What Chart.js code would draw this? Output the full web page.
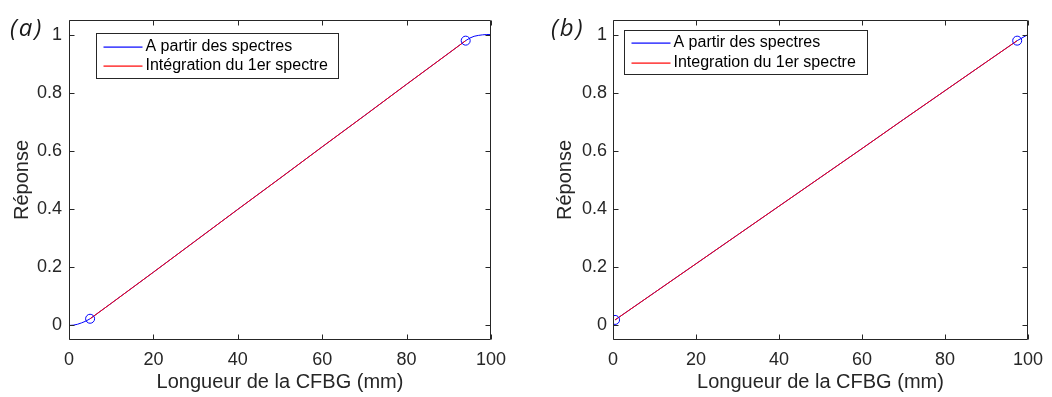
<!DOCTYPE html>
<html>
<head>
<meta charset="utf-8">
<script src="https://cdn.jsdelivr.net/npm/chart.js@4.4.0/dist/chart.umd.min.js"></script>
<style>
  body { margin: 0; background: #fff; width: 1052px; height: 397px; position: relative; overflow: hidden; }
  canvas { position: absolute; top: 0; }
  .tag { position: absolute; font: italic 24px 'Open Sans', sans-serif; letter-spacing: 2px; color: #1a1a1a; }
</style>
</head>
<body>
<canvas id="chartA" width="526" height="397" style="left:0"></canvas>
<canvas id="chartB" width="526" height="397" style="left:526px"></canvas>
<div class="tag" style="left:10px;top:10px">(a)</div>
<div class="tag" style="left:551px;top:10px">(b)</div>
<script>
// axes
const xTicks = [0, 20, 40, 60, 80, 100]
const yTicks = [0, 0.2, 0.4, 0.6, 0.8, 1]
const xTitle = 'Longueur de la CFBG (mm)'
const yTitle = 'Réponse'

// (a)
const specAX = [0, 1, 2, 3, 4, 5, 10, 20, 30, 40, 50, 60, 70, 80, 90, 94, 95, 96, 97, 98, 99, 100]
const specAY = [0, 0.001, 0.004, 0.009, 0.015, 0.023, 0.076, 0.183, 0.291, 0.399, 0.506, 0.614, 0.721, 0.829, 0.936, 0.979, 0.988, 0.994, 0.997, 0.999, 1.0, 1.0]
const integAX = [5, 10, 20, 30, 40, 50, 60, 70, 80, 90, 94]
const integAY = [0.023, 0.076, 0.183, 0.291, 0.399, 0.506, 0.614, 0.721, 0.829, 0.936, 0.979]
const markAX = [5, 94]
const markAY = [0.023, 0.979]
const labelsA = ['A partir des spectres', 'Intégration du 1er spectre']

// (b)
const specBX = [0.5, 10, 20, 30, 40, 50, 60, 70, 80, 90, 97.4, 100]
const specBY = [0.019, 0.113, 0.212, 0.311, 0.410, 0.509, 0.608, 0.708, 0.807, 0.906, 0.979, 1.0]
const integBX = [0.5, 10, 20, 30, 40, 50, 60, 70, 80, 90, 97.4]
const integBY = [0.019, 0.113, 0.212, 0.311, 0.410, 0.509, 0.608, 0.708, 0.807, 0.906, 0.979]
const markBX = [0.5, 97.4]
const markBY = [0.019, 0.979]
const labelsB = ['A partir des spectres', 'Integration du 1er spectre']

const BLUE = '#0000ff'
const RED = '#ff0000'
const FONT = "'Liberation Sans', Arial, sans-serif"
const INK = '#262626'

function pts(xs, ys) {
  return xs.map((x, i) => ({x: x, y: ys[i]}))
}

// matlab-like box with inward ticks on all four sides
const boxPlugin = {
  id: 'matlabBox',
  afterDatasetsDraw(chart) {
    const {ctx, chartArea: a, scales} = chart
    const L = Math.round(a.left) + 0.5, R = Math.round(a.right) - 0.5
    const T = Math.round(a.top) + 0.5, B = Math.round(a.bottom) - 0.5
    ctx.save()
    ctx.strokeStyle = INK
    ctx.lineWidth = 1
    ctx.beginPath()
    ctx.rect(L, T, R - L, B - T)
    xTicks.forEach(v => {
      const px = Math.round(scales.x.getPixelForValue(v)) + 0.5
      ctx.moveTo(px, B); ctx.lineTo(px, B - 5)
      ctx.moveTo(px, T); ctx.lineTo(px, T + 5)
    })
    yTicks.forEach(v => {
      const py = Math.round(scales.y.getPixelForValue(v)) + 0.5
      ctx.moveTo(L, py); ctx.lineTo(L + 5, py)
      ctx.moveTo(R, py); ctx.lineTo(R - 5, py)
    })
    ctx.stroke()
    ctx.restore()
  }
}

const legendPlugin = {
  id: 'boxLegend',
  afterDraw(chart, args, opts) {
    const {ctx, chartArea} = chart
    const x0 = Math.round(chartArea.left + opts.dx) + 0.5
    const y0 = Math.round(chartArea.top + opts.dy) + 0.5
    ctx.save()
    ctx.fillStyle = '#fff'
    ctx.fillRect(x0, y0, opts.w, opts.h)
    ctx.strokeStyle = INK
    ctx.lineWidth = 1
    ctx.strokeRect(x0, y0, opts.w, opts.h)
    ctx.font = '16px ' + FONT
    ctx.textBaseline = 'middle'
    chart.data.datasets.filter(d => d.label).forEach((d, i) => {
      const yy = Math.round(y0 + opts.row0 + i * opts.rowGap)
      ctx.fillStyle = i === 0 ? BLUE : RED
      ctx.fillRect(x0 + 7, yy - 0.5, 39, 1.2)
      ctx.fillStyle = '#000'
      ctx.fillText(d.label, x0 + 49, yy)
    })
    ctx.restore()
  }
}

function makeChart(id, spec, integ, mark, labels, lay) {
  const ctx = document.getElementById(id).getContext('2d')
  return new Chart(ctx, {
    type: 'line',
    data: {
      datasets: [
        {label: labels[0], data: spec, borderColor: BLUE, borderWidth: 1, pointRadius: 0, order: 3},
        {label: labels[1], data: integ, borderColor: RED, borderWidth: 1, pointRadius: 0, order: 2},
        {label: '', data: mark, showLine: false, pointRadius: 4.5, pointBorderWidth: 1,
         pointBorderColor: BLUE, pointBackgroundColor: 'rgba(0,0,0,0)', borderColor: BLUE, order: 1}
      ]
    },
    options: {
      responsive: false,
      animation: false,
      events: [],
      layout: {padding: {left: 0, right: lay.padRight, top: 20, bottom: 0}},
      elements: {line: {tension: 0}},
      plugins: {
        legend: {display: false},
        tooltip: {enabled: false},
        boxLegend: lay.legend
      },
      scales: {
        x: {
          type: 'linear', min: 0, max: 100,
          grid: {display: false, drawTicks: false},
          border: {display: false},
          afterBuildTicks: s => { s.ticks = xTicks.map(v => ({value: v})) },
          afterFit: s => { s.height = 57 },
          ticks: {autoSkip: false, maxRotation: 0, padding: 9, color: INK, font: {family: FONT, size: 18},
                  callback: v => String(v)},
          title: {display: true, text: xTitle, color: INK, font: {family: FONT, size: 20}, padding: {top: 0, bottom: 3}}
        },
        y: {
          type: 'linear', min: -0.05, max: 1.05,
          grid: {display: false, drawTicks: false},
          border: {display: false},
          afterBuildTicks: s => { s.ticks = yTicks.map(v => ({value: v})) },
          afterFit: s => { s.width = lay.yWidth },
          ticks: {autoSkip: false, padding: lay.yTickPad, color: INK, font: {family: FONT, size: 18},
                  callback: v => String(v)},
          title: {display: true, text: yTitle, color: INK, font: {family: FONT, size: 20}, padding: {top: lay.yTitlePad, bottom: 0}}
        }
      }
    },
    plugins: [boxPlugin, legendPlugin]
  })
}

makeChart('chartA', pts(specAX, specAY), pts(integAX, integAY), pts(markAX, markAY), labelsA,
  {yWidth: 69, padRight: 35, yTickPad: 7, yTitlePad: 10,
   legend: {dx: 27, dy: 13, w: 242, h: 45, row0: 13, rowGap: 19.5}})

makeChart('chartB', pts(specBX, specBY), pts(integBX, integBY), pts(markBX, markBY), labelsB,
  {yWidth: 87, padRight: 17, yTickPad: 6, yTitlePad: 27,
   legend: {dx: 11, dy: 10, w: 243, h: 44, row0: 12.5, rowGap: 20}})
</script>
</body>
</html>
